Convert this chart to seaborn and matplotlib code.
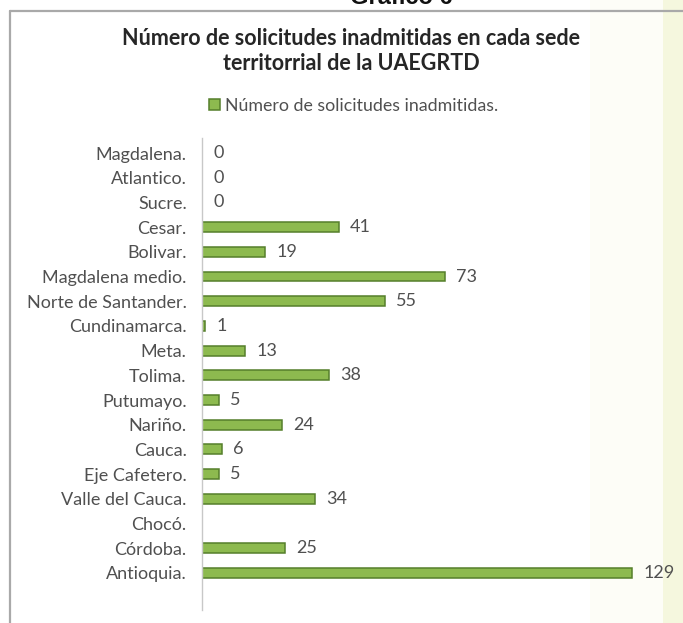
import numpy as np
import pandas as pd
import matplotlib
matplotlib.use("Agg")
import matplotlib.pyplot as plt
from matplotlib.lines import Line2D
from matplotlib.patches import Rectangle
import seaborn as sns

# Data (Chocó has no value shown)
sedes = [
    "Magdalena.", "Atlantico.", "Sucre.", "Cesar.", "Bolivar.",
    "Magdalena medio.", "Norte de Santander.", "Cundinamarca.", "Meta.",
    "Tolima.", "Putumayo.", "Nariño.", "Cauca.", "Eje Cafetero.",
    "Valle del Cauca.", "Chocó.", "Córdoba.", "Antioquia.",
]
inadmitidas = [0, 0, 0, 41, 19, 73, 55, 1, 13, 38, 5, 24, 6, 5, 34, np.nan, 25, 129]
serie_label = "Número de solicitudes inadmitidas."
titulo = "Número de solicitudes inadmitidas en cada sede\nterritorrial de la UAEGRTD"

df = pd.DataFrame({"sede": sedes, "valor": inadmitidas})

sns.set_theme(style="white")
plt.rcParams["font.family"] = ["Lato", "DejaVu Sans"]

W, H = 683, 623
fig = plt.figure(figsize=(W / 100, H / 100), dpi=100)
fig.patch.set_facecolor("white")

# faint pale stripes on the right edge of the scanned page
fig.patches.append(Rectangle((590 / W, 0), 73 / W, 1, transform=fig.transFigure,
                             facecolor="#fdfdf7", edgecolor="none", zorder=0))
fig.patches.append(Rectangle((663 / W, 0), 20 / W, 1, transform=fig.transFigure,
                             facecolor="#f5f7de", edgecolor="none", zorder=0))

# chart frame (top and left borders visible)
fig.add_artist(Line2D([10 / W, 1], [1 - 11 / H, 1 - 11 / H], transform=fig.transFigure,
                      color="#a9a9a9", lw=1.6))
fig.add_artist(Line2D([10 / W, 10 / W], [0, 1 - 11 / H], transform=fig.transFigure,
                      color="#a9a9a9", lw=1.6))

# partly cut heading above the frame, as in the scan
fig.text(401 / W, 1 - 4 / H, "Gráfico 6", ha="center", va="baseline",
         fontsize=17, fontweight="bold", family="Liberation Sans", color="#111111")

ax = fig.add_axes([202 / W, 13 / H, 466.7 / W, 471.8 / H])
ax.set_zorder(3)
ax.patch.set_alpha(0)

sns.barplot(data=df, x="valor", y="sede", order=sedes, orient="h",
            color="#8dba4f", edgecolor="#557f2b", linewidth=1.1, width=0.4,
            saturation=1, label=serie_label, ax=ax)

ax.set_xlim(0, 140)
ax.set_ylim(18.5, -0.6)
ax.set_xlabel("")
ax.set_ylabel("")
ax.set_xticks([])
for s in ["top", "right", "bottom"]:
    ax.spines[s].set_visible(False)
ax.spines["left"].set_color("#c8c8c8")
ax.spines["left"].set_linewidth(1.0)
ax.tick_params(axis="y", length=0, pad=11, labelsize=13, labelcolor="#505050")

for cont in ax.containers:
    ax.bar_label(cont, fmt="%g", padding=8, fontsize=13, color="#505050")

fig.text(351 / W, 1 - 51 / H, titulo, ha="center", va="center", fontsize=15.5,
         fontweight="bold", color="#262626", linespacing=1.2)

ax.legend(loc="center", bbox_to_anchor=(354 / W, 1 - 106 / H), bbox_transform=fig.transFigure,
          frameon=False, fontsize=12.8, handlelength=0.6, handleheight=0.6,
          handletextpad=0.3, labelcolor="#505050")

fig.savefig("out.png", dpi=100)
